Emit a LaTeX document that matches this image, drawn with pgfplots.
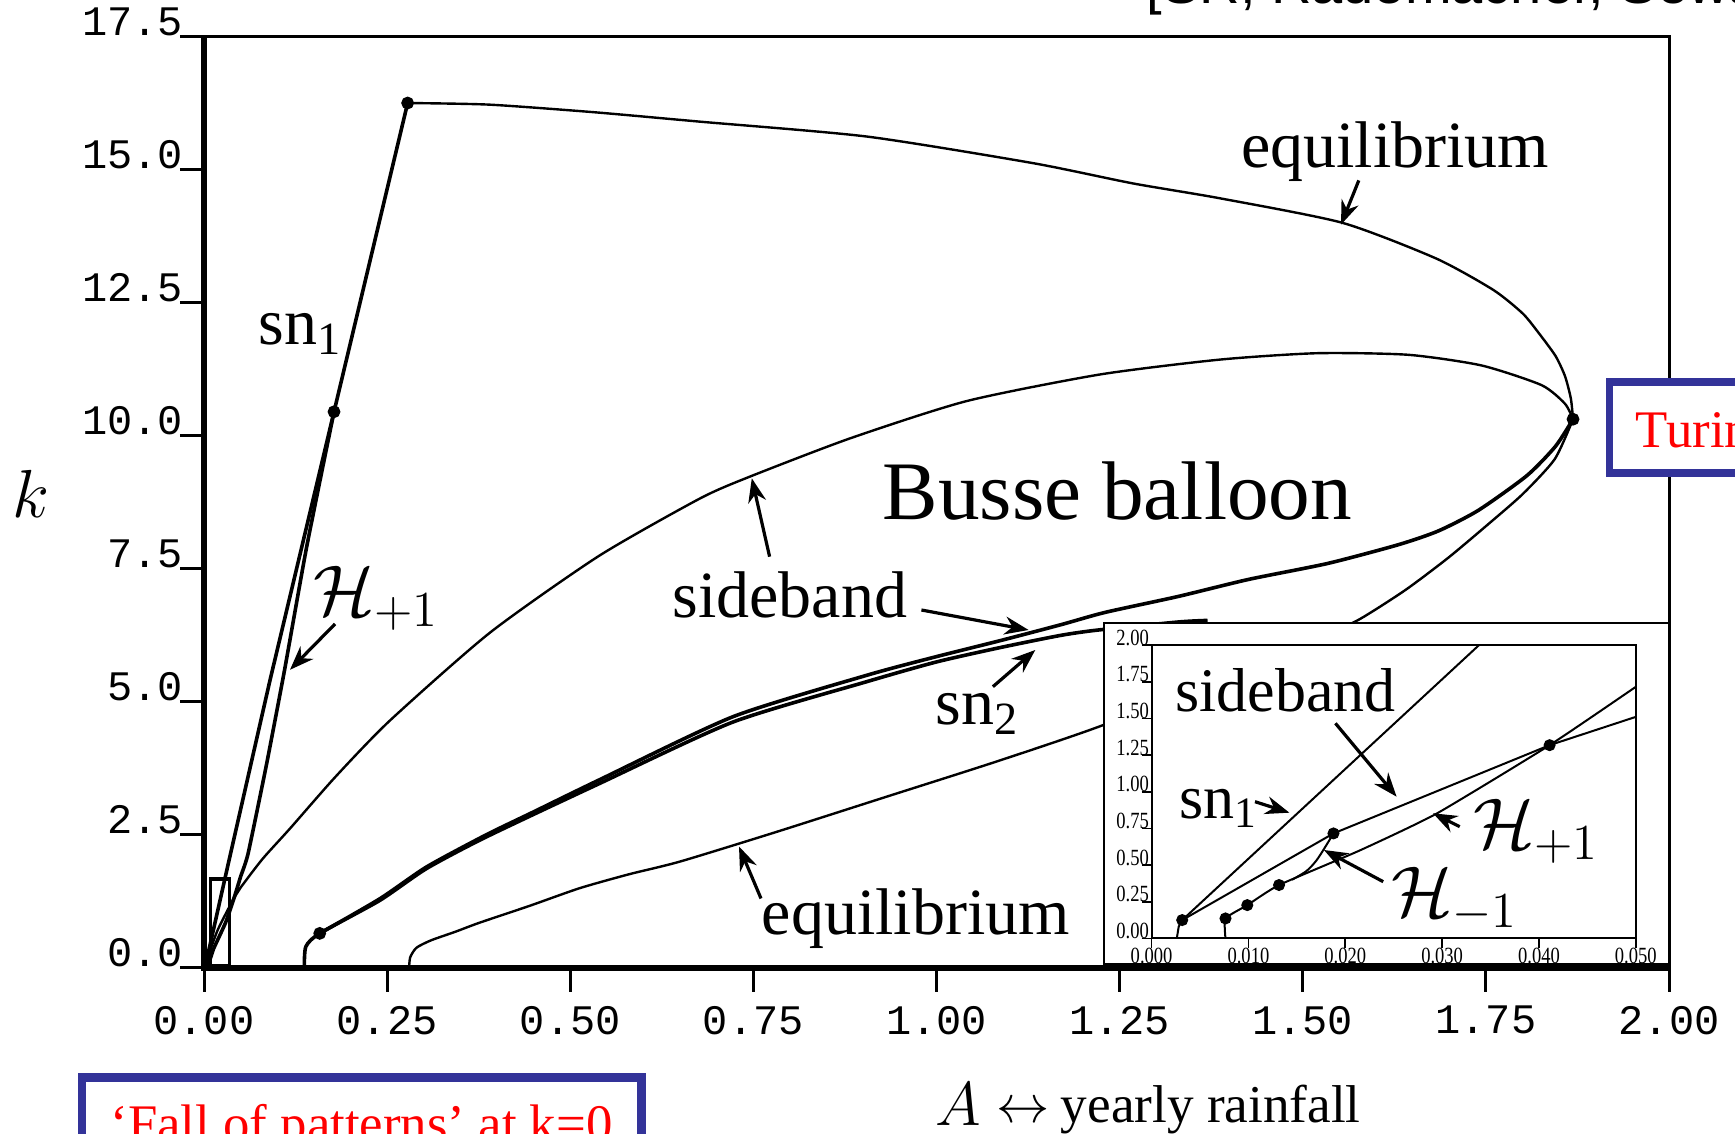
\RequirePackage{fix-cm}
\documentclass[border=0pt]{standalone}
\usepackage{fontspec}
\setmainfont{Liberation Serif}
\setmonofont{Liberation Mono}
\newfontfamily\sansf{Liberation Sans}
\newfontfamily\condf[FakeStretch=0.8]{Liberation Serif}
\usepackage{pgfplots}
\pgfplotsset{compat=1.18}
\usetikzlibrary{arrows.meta}
\definecolor{boxblue}{RGB}{51,51,153}
\begin{document}
\begin{tikzpicture}
\useasboundingbox (0pt,0pt) rectangle (433.75pt,283.5pt);
\fill[white] (0pt,0pt) rectangle (433.75pt,283.5pt);
% ---------------- main axis
\begin{axis}[
  at={(51pt,41.5pt)}, anchor=south west,
  scale only axis, width=366.25pt, height=232.875pt,
  xmin=0, xmax=2, ymin=0, ymax=17.5,
  xtick={0,0.25,0.5,0.75,1,1.25,1.5,1.75,2},
  ytick={0,2.5,5,7.5,10,12.5,15,17.5},
  xtick pos=bottom, ytick pos=left,
  tick align=outside, major tick length=6pt,
  tick style={line width=0.75pt, black},
  axis line style={line width=0.75pt},
  axis on top,
  ticklabel style={font=\ttfamily\fontsize{10.5}{12}\selectfont},
  xticklabel style={/pgf/number format/.cd, fixed, fixed zerofill, precision=2, assume math mode=true},
  yticklabel style={anchor=base east, inner sep=0pt, xshift=1pt, yshift=0.3pt,
     /pgf/number format/.cd, fixed, fixed zerofill, precision=1, assume math mode=true},
  scaled ticks=false,
]
% upper equilibrium
\addplot[black, line width=0.6pt, smooth, tension=0.4] coordinates {
(0.278,16.25)(0.389,16.22)(0.53,16.08)(0.677,15.9)(0.905,15.62)(1.132,15.12)(1.268,14.74)
(1.387,14.46)(1.554,14.0)(1.682,13.33)(1.76,12.74)(1.80,12.3)(1.821,11.95)(1.845,11.5)
(1.858,11.12)(1.866,10.7)(1.869,10.31)};
% sn1
\addplot[black, line width=0.9pt] coordinates {
(0.0026,0)(0.0032,0.125)(0.0338,2.0)(0.09,5.4)(0.1775,10.45)(0.278,16.25)};
% H+1
\addplot[black, line width=0.9pt, smooth, tension=0.3] coordinates {
(0.00763,0)(0.00763,0.136)(0.00988,0.227)(0.01316,0.364)(0.02945,0.852)(0.0411,1.318)(0.05,1.716)
(0.0602,2.15)(0.085,3.8)(0.11,5.6)(0.14,7.9)(0.1775,10.45)};
% upper sideband
\addplot[black, line width=0.6pt, smooth, tension=0.4] coordinates {
(0.00316,0.125)(0.01878,0.716)(0.0411,1.318)(0.05,1.511)(0.08,2.05)(0.1174,2.62)(0.18,3.6)
(0.2539,4.65)(0.3904,6.3)(0.539,7.74)(0.677,8.82)(0.745,9.23)(0.882,9.95)(1.041,10.65)
(1.223,11.15)(1.387,11.43)(1.52,11.55)(1.644,11.52)(1.744,11.32)(1.826,10.95)(1.858,10.6)(1.869,10.31)};
% lower sideband
\addplot[black, line width=0.9pt, smooth, tension=0.4] coordinates {
(0.158,0.65)(0.24,1.3)(0.304,1.9)(0.385,2.5)(0.448,2.92)(0.539,3.53)(0.722,4.72)(0.905,5.5)
(1.0,5.85)(1.087,6.15)(1.17,6.45)(1.23,6.68)(1.33,6.98)(1.426,7.3)(1.534,7.6)(1.63,7.95)
(1.685,8.21)(1.74,8.6)(1.806,9.25)(1.845,9.8)(1.869,10.31)};
% sn2
\addplot[black, line width=0.9pt, smooth, tension=0.4] coordinates {
(0.137,0)(0.139,0.4)(0.158,0.65)(0.24,1.27)(0.304,1.87)(0.385,2.46)(0.539,3.46)(0.722,4.62)
(0.905,5.38)(1.0,5.75)(1.087,6.02)(1.17,6.25)(1.221,6.35)(1.33,6.5)(1.37,6.53)};
% lower equilibrium
\addplot[black, line width=0.6pt, smooth, tension=0.4] coordinates {
(0.280,0)(0.2815,0.2)(0.29,0.38)(0.31,0.52)(0.343,0.68)(0.376,0.85)(0.445,1.17)(0.513,1.5)
(0.58,1.76)(0.65,2.0)(0.78,2.55)(0.93,3.21)(1.08,3.87)(1.221,4.53)(1.4,5.5)(1.52,6.2)
(1.576,6.54)(1.64,7.1)(1.698,7.7)(1.75,8.3)(1.80,8.9)(1.844,9.56)(1.869,10.31)};
% dots
\addplot[only marks, mark=*, mark size=1.4pt, black] coordinates {
(0.278,16.25)(0.1775,10.45)(1.869,10.31)(0.158,0.65)};
% zoom rectangle
\draw[line width=0.9pt] (axis cs:0.009,0.05) rectangle (axis cs:0.035,1.67);
\end{axis}
% ---------------- overlays in pixel units
\begin{scope}[x=0.25pt, y=-0.25pt, shift={(0pt,283.5pt)}]
% thick left and bottom spines
\draw[line width=1.7pt] (204,36.5) -- (204,968) -- (1669,968);
% inset white box
\draw[line width=0.5pt, fill=white] (1103.8,623.3) rectangle (1668.6,964.5);
% labels
\node[anchor=base, inner sep=0pt, font=\fontsize{16.5}{18}\selectfont] at (1395,168) {equilibrium};
\draw[line width=0.8pt, -{Stealth[length=6pt,width=4.5pt]}] (1358.8,180.4) -- (1341,224.6);
\node[anchor=base west, inner sep=0pt, font=\fontsize{16.5}{18}\selectfont] at (258,345) {sn\textsubscript{1}};
\node[anchor=base west, inner sep=0pt, font=\fontsize{18}{20}\selectfont] at (313,616) {$\mathcal{H}_{+1}$};
\draw[line width=0.8pt, -{Stealth[length=6pt,width=4.5pt]}] (335,624) -- (290,669.8);
\node[anchor=base west, inner sep=0pt, font=\fontsize{20.8}{24}\selectfont] at (882,520) {Busse balloon};
\node[anchor=base west, inner sep=0pt, font=\fontsize{16.5}{18}\selectfont] at (671.6,617.4) {sideband};
\draw[line width=0.8pt, -{Stealth[length=6pt,width=4.5pt]}] (769.6,556.7) -- (751.8,478.3);
\draw[line width=0.8pt, -{Stealth[length=6pt,width=4.5pt]}] (921.4,610) -- (1028.6,630);
\node[anchor=base west, inner sep=0pt, font=\fontsize{16.5}{18}\selectfont] at (935,724.8) {sn\textsubscript{2}};
\draw[line width=0.8pt, -{Stealth[length=6pt,width=4.5pt]}] (992.9,686.7) -- (1035.3,650);
\node[anchor=base west, inner sep=0pt, font=\fontsize{16.5}{18}\selectfont] at (761,935) {equilibrium};
\draw[line width=0.8pt, -{Stealth[length=6pt,width=4.5pt]}] (761,898.5) -- (739,846.5);
% axis labels
\node[anchor=base, inner sep=0pt, font=\fontsize{17}{20}\selectfont] at (31,518) {$k$};
\node[anchor=base west, inner sep=0pt, font=\fontsize{15.5}{18}\selectfont] at (935,1126) {$A$};
\node[anchor=base west, inner sep=0pt, font=\fontsize{13.3}{16}\selectfont] at (996,1123) {$\leftrightarrow$};
\node[anchor=base west, inner sep=0pt, font=\fontsize{13.3}{16}\selectfont] at (1060,1123) {yearly rainfall};
% red boxes
\draw[boxblue, line width=1.9pt, fill=white] (1609.5,382) rectangle (1800,473.3);
\node[anchor=base west, inner sep=0pt, text=red, font=\fontsize{13.2}{15}\selectfont] at (1635,447.3) {Turing bifurcation};
\draw[boxblue, line width=2.1pt, fill=white] (82,1077.5) rectangle (641.3,1200);
\node[anchor=base west, inner sep=0pt, text=red, font=\fontsize{13.2}{15}\selectfont] at (109.8,1141.7) {‘Fall of patterns’ at k=0};
\node[anchor=base west, inner sep=0pt, font=\sansf\fontsize{14}{16}\selectfont] at (1146,4) {[SR, Rademacher, Sewalt, van der Stelt]};
\end{scope}
% ---------------- inset axis
\begin{axis}[
  at={(287.9pt,48.9pt)}, anchor=south west,
  scale only axis, width=121.05pt, height=73.3pt,
  xmin=0, xmax=0.05, ymin=0, ymax=2,
  xtick={0,0.01,0.02,0.03,0.04,0.05},
  ytick={0,0.25,0.5,0.75,1,1.25,1.5,1.75,2},
  xtick pos=bottom, ytick pos=left,
  tick align=outside, major tick length=2.5pt,
  tick style={line width=0.4pt, black},
  axis line style={line width=0.5pt},
  ticklabel style={font=\condf\fontsize{5.8}{6.5}\selectfont, inner sep=0pt},
  xticklabel style={anchor=north, yshift=0.3pt,
     /pgf/number format/.cd, fixed, fixed zerofill, precision=3, assume math mode=true},
  yticklabel style={anchor=base east, xshift=2pt,
     /pgf/number format/.cd, fixed, fixed zerofill, precision=2, assume math mode=true},
  scaled ticks=false,
]
\addplot[black, line width=0.5pt] coordinates {(0.0026,0)(0.0028,0.08)(0.00316,0.125)(0.0338,2.0)};
\addplot[black, line width=0.5pt] coordinates {(0.00316,0.125)(0.01878,0.716)(0.0411,1.318)(0.05,1.511)};
\addplot[black, line width=0.5pt, smooth, tension=0.3] coordinates {
(0.00763,0)(0.00763,0.136)(0.00988,0.227)(0.01316,0.364)(0.0215,0.6)(0.02945,0.852)(0.0411,1.318)(0.05,1.716)};
\addplot[black, line width=0.5pt, smooth, tension=0.5] coordinates {
(0.0145,0.40)(0.016,0.46)(0.017,0.53)(0.0178,0.61)(0.01878,0.716)};
\addplot[only marks, mark=*, mark size=1.3pt, black] coordinates {
(0.00316,0.125)(0.00763,0.136)(0.00988,0.227)(0.01316,0.364)(0.01878,0.716)(0.0411,1.318)};
\end{axis}
% inset labels
\begin{scope}[x=0.25pt, y=-0.25pt, shift={(0pt,283.5pt)}]
\node[anchor=base west, inner sep=0pt, font=\fontsize{15.5}{18}\selectfont] at (1174.6,711.7) {sideband};
\draw[line width=0.8pt, -{Stealth[length=6pt,width=4.5pt]}] (1335.4,723.3) -- (1396.6,796.7);
\node[anchor=base west, inner sep=0pt, font=\fontsize{15.5}{18}\selectfont] at (1178.5,818.3) {sn\textsubscript{1}};
\draw[line width=0.8pt, -{Stealth[length=6pt,width=4.5pt]}] (1255,801.7) -- (1289.4,812.7);
\node[anchor=base west, inner sep=0pt, font=\fontsize{18}{20}\selectfont] at (1473,848.3) {$\mathcal{H}_{+1}$};
\draw[line width=0.8pt, -{Stealth[length=6pt,width=4.5pt]}] (1459.7,826.7) -- (1433,813.3);
\node[anchor=base west, inner sep=0pt, font=\fontsize{18}{20}\selectfont] at (1390.8,916.7) {$\mathcal{H}_{-1}$};
\draw[line width=0.8pt, -{Stealth[length=6pt,width=4.5pt]}] (1383.2,881.7) -- (1323.9,850);
\end{scope}
\end{tikzpicture}
\end{document}
